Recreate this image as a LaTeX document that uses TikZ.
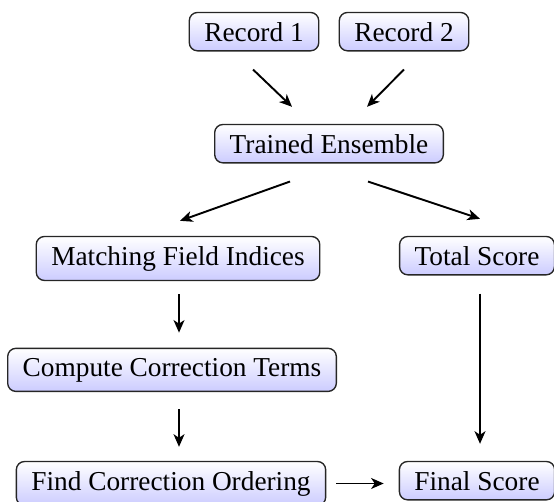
\documentclass[tikz,border=0pt]{standalone}
\usepackage{fontspec}
\setmainfont{Liberation Serif}
\usetikzlibrary{arrows.meta}
\tikzset{
  stage/.style={draw=black!85, line width=0.5pt, rounded corners=3pt,
    top color=white, bottom color=blue!20, inner xsep=5.5pt, inner ysep=3.5pt, anchor=base},
  flow/.style={-{Stealth[length=4.6pt,width=4pt,inset=1.3pt]}, line width=0.7pt},
}
\begin{document}
\begin{tikzpicture}[x=0.366pt, y=-0.366pt]
\useasboundingbox (0,0) rectangle (554,501);

% --- inputs ---
\node[stage] (rec1) at (254,41) {Record 1};
\node[stage] (rec2) at (404,41) {Record 2};
\node[stage] (ensemble) at (329,153) {Trained Ensemble};

% --- two branches ---
\node[stage] (match) at (178,265) {Matching Field Indices};
\node[stage] (total) at (477,265) {Total Score};
\node[stage] (correct) at (172,376) {Compute Correction Terms};
\node[stage] (order) at (171,490) {Find Correction Ordering};
\node[stage] (final) at (477,490) {Final Score};

% Arrows
\draw[flow] ([shift={(-1,18)}]rec1.south) -- ([shift={(-37,-17)}]ensemble.north);
\draw[flow] ([shift={(0,18)}]rec2.south) -- ([shift={(38,-17)}]ensemble.north);
\draw[flow] ([shift={(-39,18)}]ensemble.south) -- ([shift={(2,-15)}]match.north);
\draw[flow] ([shift={(39,18)}]ensemble.south) -- ([shift={(3,-17)}]total.north);
\draw[flow] ([shift={(1,13)}]match.south) -- ([shift={(7,-15)}]correct.north);
\draw[flow] ([shift={(7,17)}]correct.south) -- ([shift={(8,-14)}]order.north);
\draw[flow] ([shift={(3,18)}]total.south) -- ([shift={(3,-17)}]final.north);
\draw[flow] ([shift={(10,0)}]order.east) -- ([shift={(-15,0)}]order.east -| final.west);
\end{tikzpicture}
\end{document}
